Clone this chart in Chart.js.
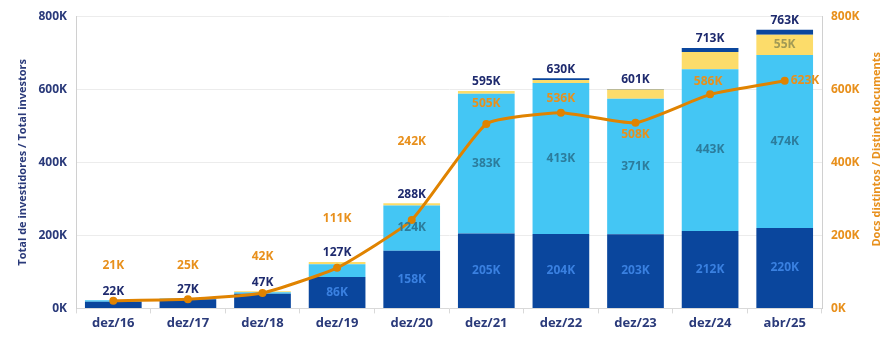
<!DOCTYPE html>
<html lang="pt">
<head>
<meta charset="UTF-8">
<title>Investidores</title>
<style>
body{margin:0;padding:0;background:#fff;}
#wrap{width:886px;height:337px;}
</style>
<script src="https://cdn.jsdelivr.net/npm/chart.js"></script>
</head>
<body>
<div id="wrap"><canvas id="chart" width="886" height="337"></canvas></div>
<script>
// dados (milhares)
const categorias = ['dez/16','dez/17','dez/18','dez/19','dez/20','dez/21','dez/22','dez/23','dez/24','abr/25'];
const base      = [18, 25, 40, 86, 158, 205, 204, 203, 212, 220];
const meio      = [4, 2, 4, 35, 124, 383, 413, 371, 443, 474];
const amarelo   = [0, 0, 3, 6, 6, 7, 8, 25, 47, 55];
const topo      = [0, 0, 0, 0, 0, 0, 5, 2, 11, 14];
const totais    = [22, 27, 47, 127, 288, 595, 630, 601, 713, 763];
const docs      = [21, 25, 42, 111, 242, 505, 536, 508, 586, 623];
const ticksY    = [0, 200, 400, 600, 800];

// deslocamento dos rótulos da linha (px)
const docsOffset = [[0,-35],[0,-34],[0,-36],[0,-49],[0,-78],[0,-20],[0,-14],[0,12],[-2,-13],[6,0]];

const FONT = '"Open Sans", sans-serif';
const AZUL = '#0a469d', CIANO = '#44c6f4', AMAR = '#fcdc6a', LARANJA = '#e08300';

const labelsPlugin = {
  id: 'labels',
  afterDatasetsDraw(chart){
    const ctx = chart.ctx, y = chart.scales.y;
    ctx.save();
    ctx.font = 'bold 12px ' + FONT;
    ctx.textAlign = 'center';
    ctx.textBaseline = 'middle';
    const segColors = ['#3a80e0', '#2c7c9c', '#a29a55', null];
    [0,1,2].forEach(d => {
      const meta = chart.getDatasetMeta(d);
      meta.data.forEach((el, i) => {
        const h = Math.abs(el.base - el.y);
        if (h < 18) return;
        ctx.fillStyle = segColors[d];
        ctx.fillText(chart.data.datasets[d].data[i] + 'K', el.x, (el.y + el.base) / 2);
      });
    });
    // totais
    const m0 = chart.getDatasetMeta(0);
    ctx.fillStyle = '#1e2a6e';
    totais.forEach((t, i) => {
      ctx.fillText(t + 'K', m0.data[i].x, y.getPixelForValue(t) - 9);
    });
    // linha
    const ml = chart.getDatasetMeta(4);
    ctx.fillStyle = '#e8901c';
    ml.data.forEach((p, i) => {
      const o = docsOffset[i];
      ctx.textAlign = o[0] > 0 ? 'left' : 'center';
      ctx.fillText(docs[i] + 'K', p.x + o[0], p.y + o[1]);
    });
    ctx.restore();
  },
  afterDraw(chart){
    // titulo do eixo direito, lido de baixo para cima
    const ctx = chart.ctx, a = chart.chartArea;
    ctx.save();
    ctx.translate(877, (a.top + a.bottom) / 2 - 13);
    ctx.rotate(-Math.PI / 2);
    ctx.font = 'bold 11px ' + FONT;
    ctx.fillStyle = '#e8901c';
    ctx.textAlign = 'center';
    ctx.textBaseline = 'middle';
    ctx.fillText('Docs distintos / Distinct documents', 0, 0);
    ctx.restore();
  }
};

new Chart(document.getElementById('chart'), {
  type: 'bar',
  data: {
    labels: categorias,
    datasets: [
      {label:'base', data: base, backgroundColor: AZUL, order: 1, stack: 's'},
      {label:'meio', data: meio, backgroundColor: CIANO, order: 1, stack: 's'},
      {label:'amarelo', data: amarelo, backgroundColor: AMAR, order: 1, stack: 's'},
      {label:'topo', data: topo, backgroundColor: AZUL, order: 1, stack: 's'},
      {type:'line', label:'docs', data: docs, yAxisID: 'y2', borderColor: LARANJA, backgroundColor: LARANJA,
       borderWidth: 3, pointRadius: 2.5, pointBackgroundColor: LARANJA, tension: 0.15, order: 0}
    ]
  },
  options: {
    responsive: false,
    animation: false,
    layout: {padding: {top: 8, bottom: 4, left: 0, right: 0}},
    datasets: {bar: {barPercentage: 0.76, categoryPercentage: 1}},
    plugins: {legend: {display: false}, tooltip: {enabled: false}},
    scales: {
      x: {
        stacked: true,
        offset: true,
        grid: {display: true, drawOnChartArea: false, tickLength: 5, color: '#d9d9d9', offset: true},
        border: {color: '#d9d9d9'},
        ticks: {color: '#2a3a7a', font: {family: FONT, size: 13, weight: 'bold'}, padding: 2}
      },
      y: {
        stacked: true, min: 0, max: 800,
        afterBuildTicks(s){ s.ticks = ticksY.map(v => ({value: v})); },
        afterFit(s){ s.width = 76; },
        grid: {color: '#ececec', tickLength: 0},
        border: {color: '#d0d0d0'},
        ticks: {color: '#2a3a7a', font: {family: FONT, size: 12, weight: 'bold'}, padding: 9, callback: v => v + 'K'},
        title: {display: true, text: 'Total de investidores / Total investors', color: '#2a3a7a',
                font: {family: FONT, size: 11, weight: 'bold'}, padding: {top: 16, bottom: 0}}
      },
      y2: {
        position: 'right', min: 0, max: 800,
        afterBuildTicks(s){ s.ticks = ticksY.map(v => ({value: v})); },
        afterFit(s){ s.width = 64; },
        grid: {drawOnChartArea: false, tickLength: 0},
        border: {color: '#d0d0d0'},
        ticks: {color: '#e8901c', font: {family: FONT, size: 12, weight: 'bold'}, padding: 9, callback: v => v + 'K'},
        title: {display: false}
      }
    }
  },
  plugins: [labelsPlugin]
});
</script>
</body>
</html>
